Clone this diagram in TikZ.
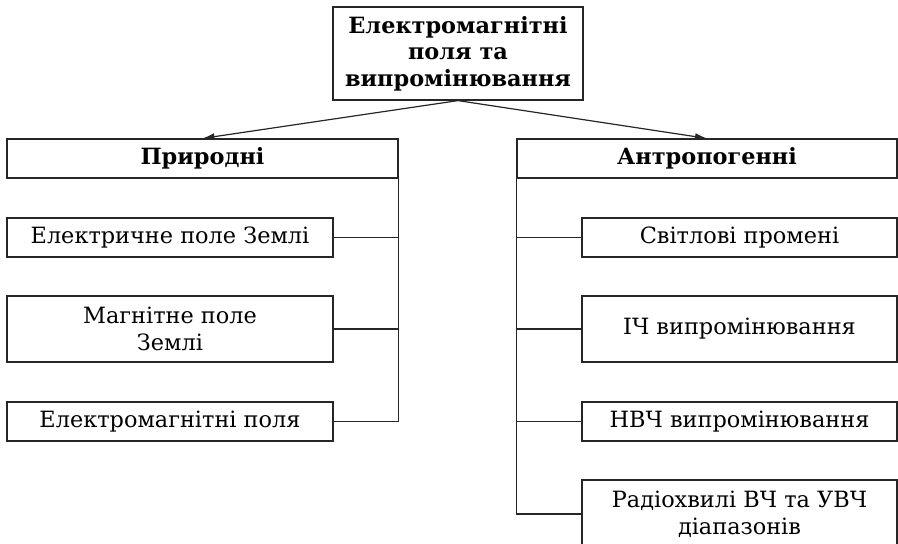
\documentclass[tikz,border=0pt]{standalone}
\usepackage{fontspec}
\setmainfont{DejaVu Serif}
\usepackage{tikz}
\usetikzlibrary{arrows.meta}

\tikzset{
  item/.style={draw=black!85, line width=1.2pt, inner sep=0pt, align=center,
    font=\fontsize{22.4}{27}\selectfont},
  headbox/.style={item, font=\bfseries\fontsize{22.4}{26.5}\selectfont},
  link/.style={draw=black!85, line width=1.2pt},
  branch/.style={link, -{Latex[length=12pt,width=7pt]}}
}

\begin{document}
\begin{tikzpicture}[x=1pt,y=-1pt]
\useasboundingbox (0,0) rectangle (898,544);

% top
\node [headbox, minimum width=250pt, minimum height=93pt] (top) at (458,53.5)
  {Електромагнітні\\поля та\\випромінювання};

% two groups
\node [headbox, minimum width=391pt, minimum height=39pt] (nat) at (202.5,158.5) {Природні};
\node [headbox, minimum width=380pt, minimum height=39pt] (ant) at (707,158.5) {Антропогенні};

\draw [branch] (top.south) -- (nat.north);
\draw [branch] (top.south) -- (ant.north);

% left column
\node [item, minimum width=326pt, minimum height=39pt] (nat1) at (170,237.5) {Електричне поле Землі};
\node [item, minimum width=326pt, minimum height=66pt] (nat2) at (170,329) {Магнітне поле\\Землі};
\node [item, minimum width=326pt, minimum height=39pt] (nat3) at (170,421.5) {Електромагнітні поля};

\draw [link] (nat.south east) |- (nat3.east);
\draw [link] (nat1.east) -- (nat1.east -| nat.east);
\draw [link] (nat2.east) -- (nat2.east -| nat.east);

% right column
\node [item, minimum width=315pt, minimum height=39pt] (ant1) at (739.5,237.5) {Світлові промені};
\node [item, minimum width=315pt, minimum height=66pt] (ant2) at (739.5,329) {ІЧ випромінювання};
\node [item, minimum width=315pt, minimum height=39pt] (ant3) at (739.5,421.5) {НВЧ випромінювання};
\node [item, minimum width=315pt, minimum height=68pt] (ant4) at (739.5,514) {Радіохвилі ВЧ та УВЧ\\діапазонів};

\draw [link] (ant.south west) |- (ant4.west);
\draw [link] (ant1.west) -- (ant1.west -| ant.west);
\draw [link] (ant2.west) -- (ant2.west -| ant.west);
\draw [link] (ant3.west) -- (ant3.west -| ant.west);
\end{tikzpicture}
\end{document}
